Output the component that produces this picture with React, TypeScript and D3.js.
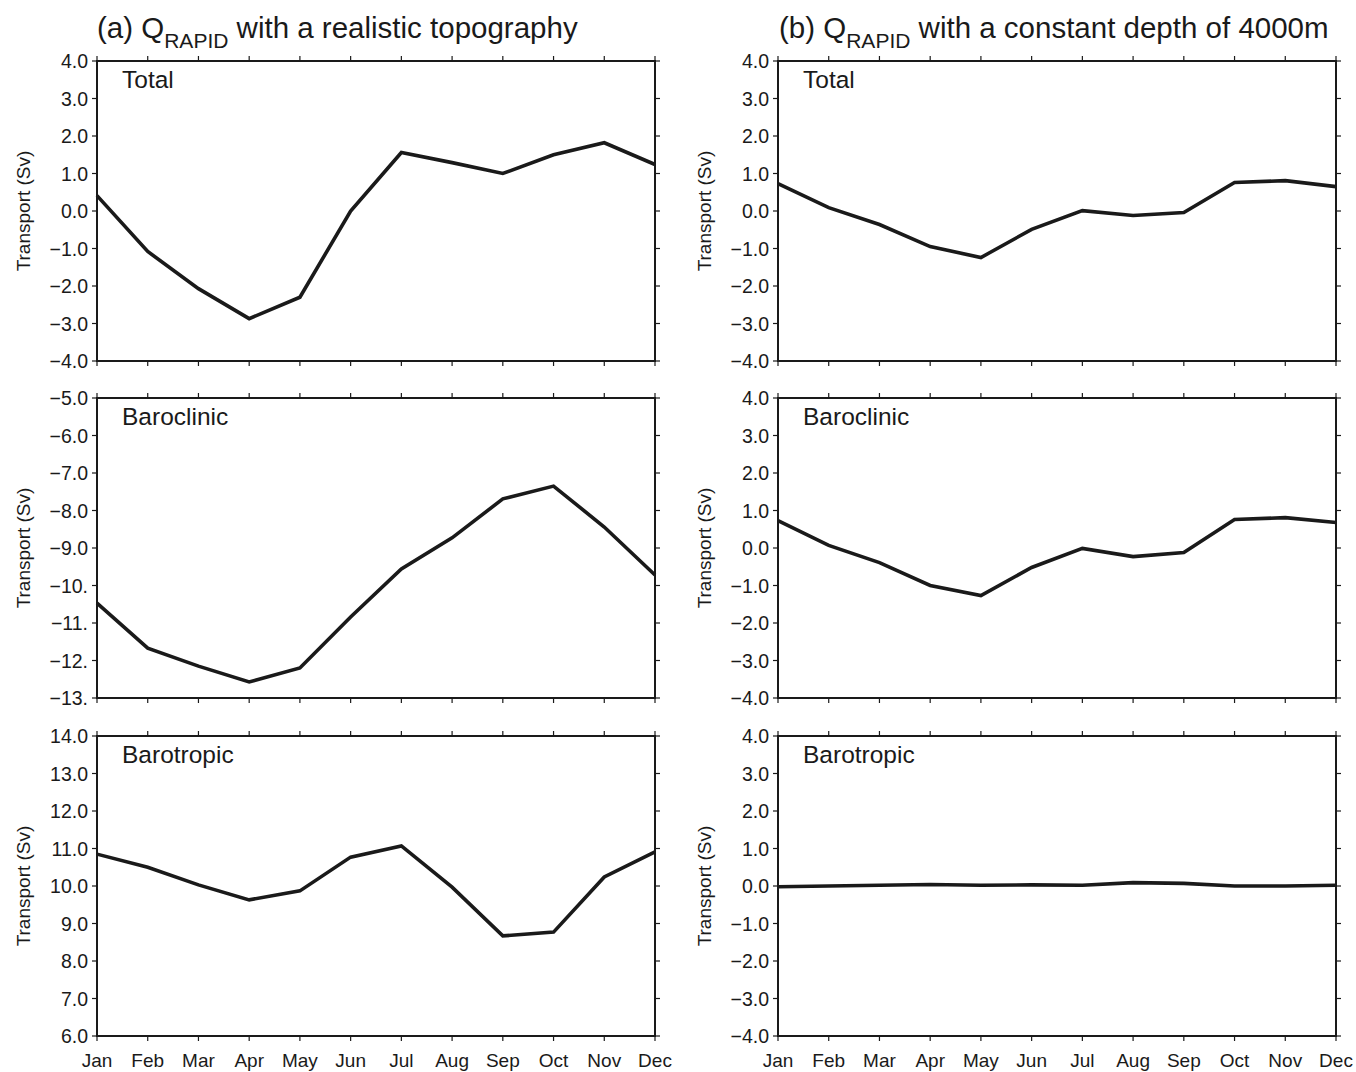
import React from 'react';
import * as d3 from 'd3';

const months = ['Jan', 'Feb', 'Mar', 'Apr', 'May', 'Jun', 'Jul', 'Aug', 'Sep', 'Oct', 'Nov', 'Dec'];

// (a) realistic topography
const aTotal = [0.41, -1.08, -2.07, -2.87, -2.3, 0.0, 1.56, 1.29, 1.0, 1.5, 1.82, 1.24];
const aBaroclinic = [-10.47, -11.67, -12.15, -12.57, -12.2, -10.84, -9.56, -8.73, -7.69, -7.35, -8.44, -9.72];
const aBarotropic = [10.85, 10.5, 10.03, 9.63, 9.87, 10.77, 11.07, 9.97, 8.67, 8.77, 10.24, 10.91];

// (b) constant depth 4000m
const bTotal = [0.73, 0.09, -0.36, -0.95, -1.24, -0.49, 0.01, -0.12, -0.04, 0.76, 0.81, 0.65];
const bBaroclinic = [0.73, 0.07, -0.39, -1.0, -1.27, -0.52, -0.01, -0.23, -0.12, 0.76, 0.81, 0.68];
const bBarotropic = [-0.02, 0.0, 0.02, 0.04, 0.02, 0.03, 0.02, 0.09, 0.07, 0.0, 0.0, 0.02];

const ticksTotal = ['−4.0', '−3.0', '−2.0', '−1.0', '0.0', '1.0', '2.0', '3.0', '4.0'];
const ticksBaroclinicA = ['−13.', '−12.', '−11.', '−10.', '−9.0', '−8.0', '−7.0', '−6.0', '−5.0'];
const ticksBarotropicA = ['6.0', '7.0', '8.0', '9.0', '10.0', '11.0', '12.0', '13.0', '14.0'];

const font = '"Liberation Sans", Arial, Helvetica, sans-serif';
const ink = '#1a1a1a';

type PanelProps = {
  x0: number;
  y0: number;
  values: number[];
  domain: [number, number];
  tickLabels: string[];
  label: string;
  showMonths: boolean;
};

const W = 558;
const H = 300;

const Panel = ({ x0, y0, values, domain, tickLabels, label, showMonths }: PanelProps) => {
  const x = d3.scalePoint<string>().domain(months).range([0, W]);
  const y = d3.scaleLinear().domain(domain).range([H, 0]);
  const tickVals = d3.range(domain[0], domain[1] + 0.001, 1);
  const line = d3
    .line<number>()
    .x((_, i) => x(months[i]) as number)
    .y((d) => y(d));
  const tk = 5;

  return (
    <g transform={`translate(${x0},${y0})`}>
      <path d={line(values) ?? ''} fill="none" stroke={ink} strokeWidth={3.6} strokeLinejoin="miter" />
      <rect x={0} y={0} width={W} height={H} fill="none" stroke={ink} strokeWidth={2} />
      {months.map((m) => (
        <g key={m}>
          <line x1={x(m)} x2={x(m)} y1={0} y2={-tk} stroke={ink} strokeWidth={1.2} />
          <line x1={x(m)} x2={x(m)} y1={H} y2={H + tk} stroke={ink} strokeWidth={1.2} />
          {showMonths && (
            <text x={x(m)} y={H + 31} textAnchor="middle" fontSize={19} fill={ink}>
              {m}
            </text>
          )}
        </g>
      ))}
      {tickVals.map((v, i) => (
        <g key={v}>
          <line x1={-tk} x2={0} y1={y(v)} y2={y(v)} stroke={ink} strokeWidth={1.2} />
          <line x1={W} x2={W + tk} y1={y(v)} y2={y(v)} stroke={ink} strokeWidth={1.2} />
          <text x={-9} y={y(v)} dy="0.36em" textAnchor="end" fontSize={19.5} fill={ink}>
            {tickLabels[i]}
          </text>
        </g>
      ))}
      <text x={25} y={27} fontSize={24.5} fill={ink}>
        {label}
      </text>
      <text
        transform={`translate(${-67},${H / 2}) rotate(-90)`}
        textAnchor="middle"
        fontSize={19}
        fill={ink}
      >
        Transport (Sv)
      </text>
    </g>
  );
};

const Title = ({ x, y, tag, rest }: { x: number; y: number; tag: string; rest: string }) => (
  <text x={x} y={y} fontSize={29.5} fill={ink}>
    {`${tag} Q`}
    <tspan fontSize={21} dy={10}>RAPID</tspan>
    <tspan dy={-10}>{` ${rest}`}</tspan>
  </text>
);

const App = () => {
  const lx = 97;
  const rx = 778;
  const rows = [61, 398, 736];
  return (
    <svg width={1356} height={1072} style={{ position: 'absolute', left: 0, top: 0, fontFamily: font }}>
      <rect width={1356} height={1072} fill="#fff" />
      <Title x={97} y={38} tag="(a)" rest="with a realistic topography" />
      <Title x={779} y={38} tag="(b)" rest="with a constant depth of 4000m" />

      <Panel x0={lx} y0={rows[0]} values={aTotal} domain={[-4, 4]} tickLabels={ticksTotal} label="Total" showMonths={false} />
      <Panel x0={lx} y0={rows[1]} values={aBaroclinic} domain={[-13, -5]} tickLabels={ticksBaroclinicA} label="Baroclinic" showMonths={false} />
      <Panel x0={lx} y0={rows[2]} values={aBarotropic} domain={[6, 14]} tickLabels={ticksBarotropicA} label="Barotropic" showMonths={true} />

      <Panel x0={rx} y0={rows[0]} values={bTotal} domain={[-4, 4]} tickLabels={ticksTotal} label="Total" showMonths={false} />
      <Panel x0={rx} y0={rows[1]} values={bBaroclinic} domain={[-4, 4]} tickLabels={ticksTotal} label="Baroclinic" showMonths={false} />
      <Panel x0={rx} y0={rows[2]} values={bBarotropic} domain={[-4, 4]} tickLabels={ticksTotal} label="Barotropic" showMonths={true} />
    </svg>
  );
};

export default App;
